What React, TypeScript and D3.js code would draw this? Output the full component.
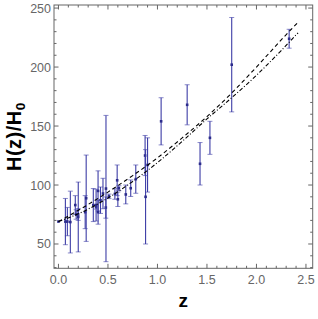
import React from "react";
import * as d3 from "d3";

// observational H(z) points: redshift, value, 1-sigma error
const zObs = [0, 0.07, 0.09, 0.12, 0.17, 0.179, 0.199, 0.2, 0.27, 0.28, 0.352, 0.38, 0.3802, 0.4, 0.4004, 0.4247, 0.4497, 0.4783, 0.48, 0.51, 0.57, 0.593, 0.6, 0.61, 0.68, 0.73, 0.781, 0.875, 0.88, 0.9, 1.037, 1.3, 1.43, 1.53, 1.75, 2.33];
const hObs = [69, 69, 69, 68.6, 83, 75, 75, 72.9, 77, 88.8, 83, 81.5, 83, 95, 77, 87.1, 92.8, 80.9, 97, 90.4, 92.4, 104, 87.9, 97.3, 92, 97.3, 105, 125, 90, 117, 154, 168, 118, 140, 202, 224];
const errObs = [0.8, 19.6, 12, 26.2, 8, 4, 5, 29.6, 14, 36.6, 14, 1.9, 13.5, 17, 10.2, 11.2, 12.9, 9, 62, 1.9, 4.5, 13, 6.1, 2.1, 8, 7, 12, 17, 40, 23, 20, 17, 18, 14, 40, 8];

// model curves
const zModel = [0, 0.25, 0.5, 0.75, 1.0, 1.25, 1.5, 1.75, 2.0, 2.25, 2.42];
const hDashed = [69, 81, 94, 108, 123, 140, 158, 178, 200, 223, 238];
const hDashDot = [69, 77.5, 89, 103, 119, 137, 156, 174, 193, 214, 229];

const xMajor = [0, 0.5, 1, 1.5, 2, 2.5];
const yMajor = [50, 100, 150, 200, 250];

const W = 318;
const H = 319;
const frame = { left: 54, right: 312.7, top: 5, bottom: 268.3 };

export default function App() {
  const x = d3.scaleLinear().domain([-0.045, 2.568]).range([frame.left, frame.right]);
  const y = d3.scaleLinear().domain([29.4, 252.6]).range([frame.bottom, frame.top]);

  const xMinor = d3.range(0, 2.51, 0.1).filter((v) => !xMajor.some((m) => Math.abs(m - v) < 1e-6));
  const yMinor = d3.range(30, 251, 10).filter((v) => v % 50 !== 0);

  const line = d3
    .line<number>()
    .x((_, i) => x(zModel[i]))
    .y((d) => y(d))
    .curve(d3.curveMonotoneX);

  const frameColor = "#666";
  const barColor = "#3d3da6";
  const font = "'Liberation Sans', Arial, sans-serif";

  return (
    <svg width={W} height={H} style={{ position: "absolute", left: 0, top: 0, background: "#fff" }}>
      {/* error bars */}
      {zObs.map((z, i) => {
        const cx = x(z);
        const y1 = y(hObs[i] + errObs[i]);
        const y2 = y(hObs[i] - errObs[i]);
        return (
          <g key={i}>
            {errObs[i] > 1 && (
              <>
                <line x1={cx} x2={cx} y1={y1} y2={y2} stroke={barColor} strokeWidth={1.1} />
                <line x1={cx - 2.5} x2={cx + 2.5} y1={y1} y2={y1} stroke={barColor} strokeOpacity={0.6} strokeWidth={1} />
                <line x1={cx - 2.5} x2={cx + 2.5} y1={y2} y2={y2} stroke={barColor} strokeOpacity={0.6} strokeWidth={1} />
              </>
            )}
            <rect x={cx - 1.3} y={y(hObs[i]) - 1.3} width={2.6} height={2.6} fill="#2c2c8c" />
          </g>
        );
      })}

      {/* model curves */}
      <path d={line(hDashed) || ""} fill="none" stroke="#000" strokeWidth={1.1} strokeDasharray="4,3" />
      <path d={line(hDashDot) || ""} fill="none" stroke="#000" strokeWidth={1.1} strokeDasharray="4,2,1,2" />

      {/* frame */}
      <rect
        x={frame.left}
        y={frame.top}
        width={frame.right - frame.left}
        height={frame.bottom - frame.top}
        fill="none"
        stroke={frameColor}
        strokeWidth={1}
      />

      {/* x ticks */}
      {xMajor.map((v) => (
        <g key={"xM" + v}>
          <line x1={x(v)} x2={x(v)} y1={frame.bottom} y2={frame.bottom - 4.5} stroke={frameColor} />
          <line x1={x(v)} x2={x(v)} y1={frame.top} y2={frame.top + 4.5} stroke={frameColor} />
          <text x={x(v)} y={284} textAnchor="middle" fontFamily={font} fontSize={12.5} fill="#666">
            {v.toFixed(1)}
          </text>
        </g>
      ))}
      {xMinor.map((v) => (
        <g key={"xm" + v}>
          <line x1={x(v)} x2={x(v)} y1={frame.bottom} y2={frame.bottom - 2.5} stroke={frameColor} />
          <line x1={x(v)} x2={x(v)} y1={frame.top} y2={frame.top + 2.5} stroke={frameColor} />
        </g>
      ))}

      {/* y ticks */}
      {yMajor.map((v) => (
        <g key={"yM" + v}>
          <line x1={frame.left} x2={frame.left + 4.5} y1={y(v)} y2={y(v)} stroke={frameColor} />
          <line x1={frame.right} x2={frame.right - 4.5} y1={y(v)} y2={y(v)} stroke={frameColor} />
          <text x={51} y={y(v) + 4.5} textAnchor="end" fontFamily={font} fontSize={12.5} fill="#666">
            {v}
          </text>
        </g>
      ))}
      {yMinor.map((v) => (
        <g key={"ym" + v}>
          <line x1={frame.left} x2={frame.left + 2.5} y1={y(v)} y2={y(v)} stroke={frameColor} />
          <line x1={frame.right} x2={frame.right - 2.5} y1={y(v)} y2={y(v)} stroke={frameColor} />
        </g>
      ))}

      {/* axis labels */}
      <text
        x={183.3}
        y={307}
        textAnchor="middle"
        fontFamily={font}
        fontWeight="bold"
        fontSize={19}
        fill="#000"
      >
        z
      </text>
      <text
        transform={`translate(21,${(frame.top + frame.bottom) / 2}) rotate(-90)`}
        textAnchor="middle"
        fontFamily={font}
        fontWeight="bold"
        fontSize={20}
        letterSpacing={0.5}
        fill="#000"
      >
        H(z)/H<tspan fontSize={13.5} dy={4}>0</tspan>
      </text>
    </svg>
  );
}
